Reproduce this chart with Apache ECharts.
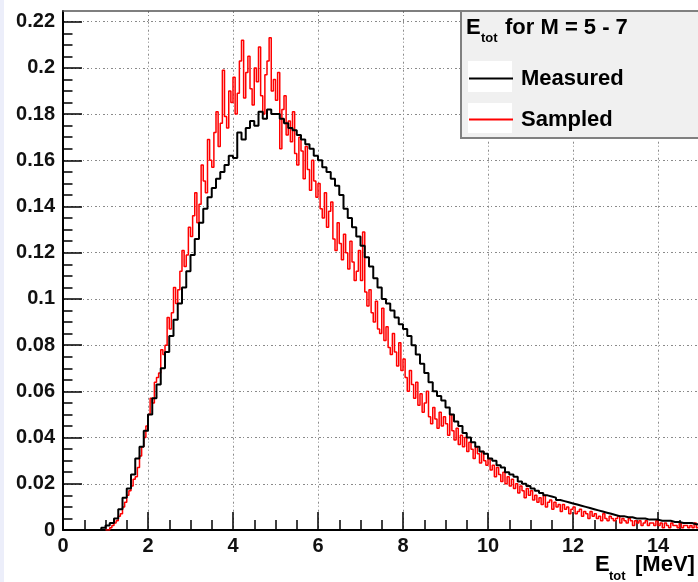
<!DOCTYPE html>
<html>
<head>
<meta charset="utf-8">
<script src="https://cdn.jsdelivr.net/npm/echarts@6/dist/echarts.min.js"></script>
<style>
  html, body { margin: 0; padding: 0; background: #ffffff; }
  #chart { width: 698px; height: 582px; }
</style>
</head>
<body>
<div id="chart"></div>
<script>
// histogram "Measured": bins of 0.1 MeV starting at 0.8 MeV
const measuredStart = 0.8;
const measuredWidth = 0.1;
const measured = [
  0, 0.001, 0.002, 0.003, 0.005, 0.009, 0.014, 0.018, 0.024, 0.031, 0.036, 0.043,
  0.050, 0.057, 0.063, 0.070, 0.077, 0.084, 0.091, 0.098, 0.105, 0.112,
  0.119, 0.126, 0.133, 0.139, 0.144, 0.148, 0.152, 0.155, 0.158, 0.162,
  0.161, 0.172, 0.169, 0.174, 0.177, 0.175, 0.181, 0.178, 0.182, 0.180,
  0.180, 0.178, 0.176, 0.174, 0.173, 0.171, 0.169, 0.167, 0.165, 0.162,
  0.160, 0.157, 0.155, 0.152, 0.149, 0.145, 0.139, 0.135, 0.131, 0.127,
  0.123, 0.118, 0.114, 0.109, 0.105, 0.100, 0.098, 0.095, 0.092, 0.089,
  0.087, 0.084, 0.080, 0.076, 0.072, 0.068, 0.064, 0.060, 0.058, 0.056,
  0.053, 0.050, 0.047, 0.045, 0.042, 0.040, 0.038, 0.036, 0.034, 0.033,
  0.031, 0.030, 0.028, 0.027, 0.025, 0.024, 0.023, 0.021, 0.020, 0.019,
  0.018, 0.017, 0.016, 0.015, 0.0145, 0.014, 0.013, 0.0125, 0.012, 0.0115,
  0.011, 0.0105, 0.010, 0.0095, 0.009, 0.0085, 0.008, 0.0075, 0.007, 0.0065,
  0.006, 0.006, 0.0055, 0.0055, 0.005, 0.005, 0.005, 0.0045, 0.0045, 0.0045,
  0.004, 0.004, 0.004, 0.0035, 0.0035, 0.003, 0.003, 0.003, 0.0025, 0.0025
];

// histogram "Sampled": bins of 0.05 MeV starting at 1.0 MeV (one row per MeV)
const sampledStart = 1.0;
const sampledWidth = 0.05;
const sampled = [
  0, 0, 0.001, 0.002, 0.003, 0.004, 0.006, 0.007, 0.010, 0.012, 0.015, 0.017, 0.019, 0.022, 0.023, 0.027, 0.032, 0.036, 0.040, 0.045,
  0.050, 0.057, 0.055, 0.064, 0.066, 0.068, 0.078, 0.076, 0.080, 0.092, 0.087, 0.094, 0.105, 0.098, 0.104, 0.112, 0.121, 0.114, 0.119, 0.131,
  0.127, 0.136, 0.146, 0.133, 0.141, 0.158, 0.151, 0.146, 0.169, 0.160, 0.157, 0.172, 0.181, 0.166, 0.176, 0.199, 0.179, 0.174, 0.190, 0.185,
  0.196, 0.180, 0.189, 0.203, 0.212, 0.187, 0.198, 0.205, 0.191, 0.184, 0.200, 0.194, 0.209, 0.188, 0.180, 0.197, 0.203, 0.213, 0.190, 0.195,
  0.186, 0.198, 0.165, 0.182, 0.188, 0.171, 0.177, 0.168, 0.181, 0.163, 0.158, 0.170, 0.164, 0.152, 0.166, 0.156, 0.147, 0.160, 0.151, 0.144,
  0.150, 0.139, 0.135, 0.146, 0.131, 0.138, 0.142, 0.126, 0.121, 0.133, 0.124, 0.117, 0.128, 0.120, 0.113, 0.125, 0.116, 0.108, 0.112, 0.121,
  0.108, 0.129, 0.103, 0.097, 0.104, 0.094, 0.090, 0.099, 0.087, 0.085, 0.096, 0.082, 0.088, 0.079, 0.076, 0.085, 0.077, 0.071, 0.081, 0.069,
  0.074, 0.066, 0.060, 0.069, 0.063, 0.057, 0.064, 0.054, 0.059, 0.051, 0.055, 0.060, 0.049, 0.046, 0.053, 0.048, 0.044, 0.051, 0.045, 0.049,
  0.046, 0.041, 0.050, 0.043, 0.039, 0.044, 0.037, 0.041, 0.036, 0.040, 0.034, 0.038, 0.035, 0.031, 0.036, 0.033, 0.029, 0.034, 0.030, 0.028,
  0.031, 0.026, 0.028, 0.023, 0.027, 0.024, 0.021, 0.025, 0.020, 0.023, 0.019, 0.022, 0.018, 0.020, 0.016, 0.019, 0.017, 0.014, 0.018, 0.015,
  0.017, 0.013, 0.015, 0.012, 0.014, 0.011, 0.015, 0.010, 0.012, 0.013, 0.009, 0.012, 0.010, 0.011, 0.008, 0.011, 0.009, 0.010, 0.007, 0.009,
  0.010, 0.007, 0.008, 0.009, 0.006, 0.008, 0.007, 0.005, 0.008, 0.006, 0.007, 0.005, 0.006, 0.004, 0.007, 0.005, 0.004, 0.006, 0.005, 0.004,
  0.005, 0.006, 0.003, 0.005, 0.004, 0.003, 0.005, 0.004, 0.002, 0.004, 0.003, 0.004, 0.002, 0.003, 0.004, 0.002, 0.003, 0.003, 0.002, 0.004,
  0.002, 0.003, 0.001, 0.003, 0.002, 0.001, 0.003, 0.002, 0.002, 0.001, 0.003, 0.001, 0.002, 0.002, 0.001, 0.002, 0.001, 0.003, 0.001, 0.002
];

const legendNames = ['Measured', 'Sampled'];
const xRange = [0, 16];
const xStep = 2;
const xLastLabel = 14;
const yRange = [0, 0.22];
const yStep = 0.02;

const FONT = "'Liberation Sans', Arial, Helvetica, sans-serif";

// turn bin contents into step points (left edges + closing edge)
function histPoints(start, width, values) {
  const pts = values.map((v, i) => [start + i * width, v]);
  pts.push([start + values.length * width, values[values.length - 1]]);
  return pts;
}

const gridLine = { show: true, lineStyle: { color: '#8a8a8a', width: 1, type: [2, 2, 1, 3] } };

const chart = echarts.init(document.getElementById('chart'), null, { renderer: 'canvas' });

const option = {
  animation: false,
  backgroundColor: '#ffffff',
  grid: [
    { left: 63, width: 680, top: 21.7, bottom: 52, outerBoundsMode: 'none', containLabel: false },
    { left: 63, width: 680, top: 11, height: 10.7, outerBoundsMode: 'none', containLabel: false }
  ],
  xAxis: [
    {
      type: 'value', gridIndex: 0,
      min: xRange[0], max: xRange[1], interval: xStep,
      axisLine: { show: true, onZero: false, lineStyle: { color: '#000', width: 2 } },
      axisTick: { show: true, inside: true, length: 18, lineStyle: { color: '#000', width: 1.5 } },
      minorTick: { show: true, splitNumber: 4, length: 10, lineStyle: { color: '#000', width: 1.5 } },
      splitLine: gridLine,
      axisLabel: {
        margin: 6, color: '#111', fontFamily: FONT, fontWeight: 'bold', fontSize: 20,
        formatter: v => (v > xLastLabel ? '' : String(v))
      }
    },
    {
      type: 'value', gridIndex: 1, position: 'top',
      min: xRange[0], max: xRange[1], interval: xStep,
      axisLine: { show: true, onZero: false, lineStyle: { color: '#555', width: 1.5 } },
      axisTick: { show: false }, axisLabel: { show: false },
      splitLine: gridLine
    }
  ],
  yAxis: [
    {
      type: 'value', gridIndex: 0,
      min: yRange[0], max: yRange[1], interval: yStep,
      axisLine: { show: true, onZero: false, lineStyle: { color: '#000', width: 2 } },
      axisTick: { show: true, inside: true, length: 19, lineStyle: { color: '#000', width: 1.5 } },
      minorTick: { show: true, splitNumber: 4, length: 9.5, lineStyle: { color: '#000', width: 1.5 } },
      splitLine: gridLine,
      axisLabel: { margin: 8, color: '#111', fontFamily: FONT, fontWeight: 'bold', fontSize: 20 }
    },
    {
      type: 'value', gridIndex: 1, min: 0, max: 1,
      axisLine: { show: true, onZero: false, lineStyle: { color: '#000', width: 2 } },
      axisTick: { show: false }, axisLabel: { show: false }, splitLine: { show: false }
    }
  ],
  legend: {
    data: legendNames,
    orient: 'vertical',
    left: 468, top: 61.5,
    padding: 0,
    itemWidth: 44, itemHeight: 14, itemGap: 7,
    selectedMode: false,
    z: 10,
    itemStyle: { opacity: 0 },
    textStyle: {
      fontFamily: FONT, fontWeight: 'bold', fontSize: 22, color: '#000',
      lineHeight: 31, padding: [3, 0, 0, 3]
    }
  },
  graphic: [
    { type: 'rect', z: 1, silent: true, shape: { x: 0, y: 0, width: 4, height: 582 }, style: { fill: '#eceefa' } },
    { type: 'rect', z: 5, silent: true, shape: { x: 461, y: 11, width: 250, height: 127 },
      style: { fill: '#f0f0f0', stroke: '#808080', lineWidth: 2 } },
    { type: 'rect', z: 6, silent: true, shape: { x: 468, y: 61, width: 44, height: 31 }, style: { fill: '#ffffff' } },
    { type: 'rect', z: 6, silent: true, shape: { x: 468, y: 103, width: 44, height: 30 }, style: { fill: '#ffffff' } },
    { type: 'text', z: 7, x: 466, y: 28, style: { text: 'E', fill: '#000', font: 'bold 22px ' + FONT, verticalAlign: 'middle' } },
    { type: 'text', z: 7, x: 481, y: 38, style: { text: 'tot', fill: '#000', font: 'bold 13px ' + FONT, verticalAlign: 'middle' } },
    { type: 'text', z: 7, x: 505, y: 28, style: { text: 'for M = 5 - 7', fill: '#000', font: 'bold 22px ' + FONT, verticalAlign: 'middle' } },
    { type: 'text', z: 7, x: 595, y: 565, style: { text: 'E', fill: '#000', font: 'bold 22px ' + FONT, verticalAlign: 'middle' } },
    { type: 'text', z: 7, x: 609, y: 576, style: { text: 'tot', fill: '#000', font: 'bold 13px ' + FONT, verticalAlign: 'middle' } },
    { type: 'text', z: 7, x: 635, y: 565, style: { text: '[MeV]', fill: '#000', font: 'bold 22px ' + FONT, verticalAlign: 'middle' } }
  ],
  series: [
    {
      name: 'Sampled', type: 'line', step: 'end',
      xAxisIndex: 0, yAxisIndex: 0,
      data: histPoints(sampledStart, sampledWidth, sampled),
      symbol: 'none',
      lineStyle: { color: '#ff0000', width: 1.5 },
      itemStyle: { color: '#ff0000' }
    },
    {
      name: 'Measured', type: 'line', step: 'end',
      xAxisIndex: 0, yAxisIndex: 0,
      data: histPoints(measuredStart, measuredWidth, measured),
      symbol: 'none',
      lineStyle: { color: '#000000', width: 2 },
      itemStyle: { color: '#000000' }
    }
  ]
};

chart.setOption(option);
</script>
</body>
</html>
